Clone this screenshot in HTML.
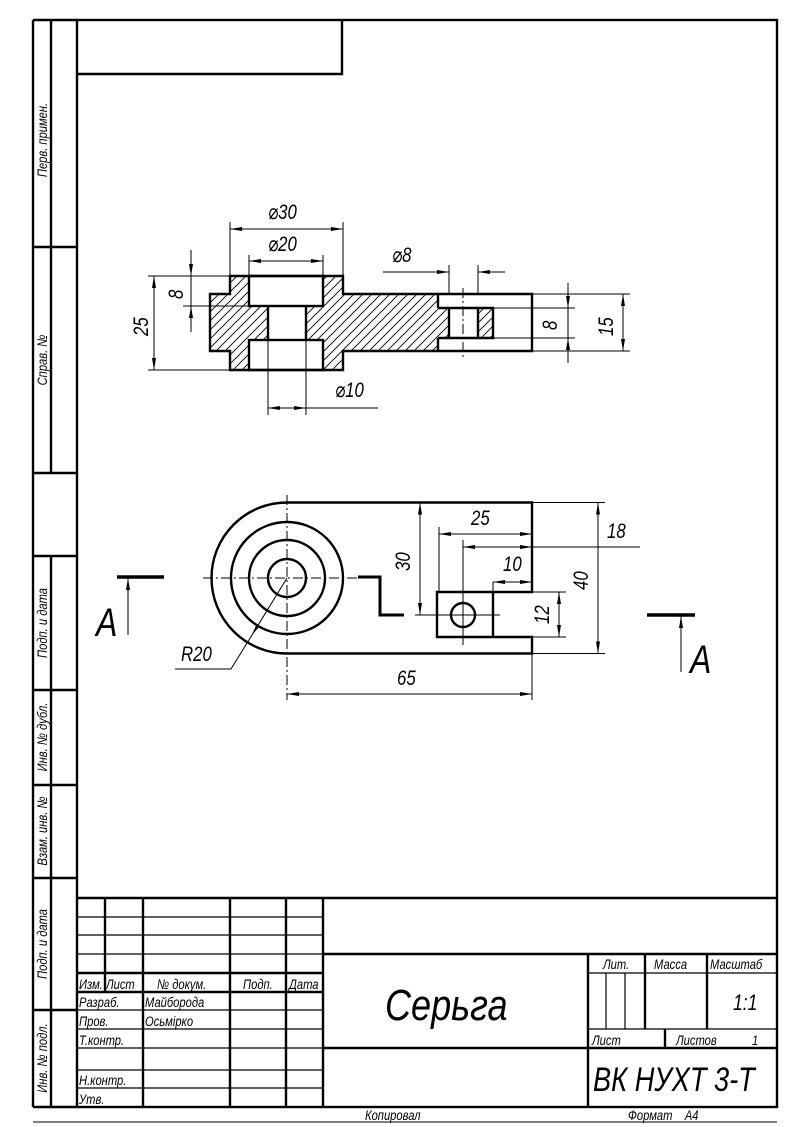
<!DOCTYPE html>
<html><head><meta charset="utf-8"><style>
html,body{margin:0;padding:0;background:#fff}
svg{display:block}
text{font-family:"Liberation Sans","DejaVu Sans",sans-serif;font-style:italic;fill:#000}
</style></head><body>
<svg width="798" height="1127" viewBox="0 0 798 1127" xmlns="http://www.w3.org/2000/svg">
<defs>
<pattern id="h" width="9" height="9" patternUnits="userSpaceOnUse">
<path d="M-1,10 L10,-1 M-2,2 L2,-2 M7,11 L11,7" stroke="#000" stroke-width="0.9"/>
</pattern>
<marker id="a" viewBox="0 0 12 4" refX="12" refY="2" markerWidth="12" markerHeight="4" markerUnits="userSpaceOnUse" orient="auto-start-reverse">
<path d="M0,0 L12,2 L0,4 Z" fill="#000"/>
</marker>
</defs>
<rect width="798" height="1127" fill="#fff"/>

<!-- frame -->
<g stroke="#000" fill="none" stroke-width="2.4">
<rect x="77" y="20" width="700" height="1087"/>
<line x1="33" y1="20" x2="33" y2="1107"/>
<line x1="33" y1="20" x2="77" y2="20"/>
<line x1="33" y1="1107" x2="77" y2="1107"/>
<line x1="51" y1="20" x2="51" y2="473"/>
<line x1="51" y1="556" x2="51" y2="1107"/>
<line x1="33" y1="247" x2="77" y2="247"/>
<line x1="33" y1="473" x2="77" y2="473"/>
<line x1="33" y1="556" x2="77" y2="556"/>
<line x1="33" y1="690" x2="77" y2="690"/>
<line x1="33" y1="785" x2="77" y2="785"/>
<line x1="33" y1="878" x2="77" y2="878"/>
<line x1="33" y1="1010" x2="77" y2="1010"/>
<polyline points="77,74 342,74 342,20"/>
</g>
<line x1="33" y1="1122" x2="777" y2="1122" stroke="#000" stroke-width="1"/>

<!-- left strip labels -->
<g font-size="14">
<text transform="translate(47,140) rotate(-90) scale(0.8,1)" text-anchor="middle">Перв. примен.</text>
<text transform="translate(47,360) rotate(-90) scale(0.8,1)" text-anchor="middle">Справ. №</text>
<text transform="translate(47,623) rotate(-90) scale(0.8,1)" text-anchor="middle">Подп. и дата</text>
<text transform="translate(47,737) rotate(-90) scale(0.8,1)" text-anchor="middle">Инв. № дубл.</text>
<text transform="translate(47,831) rotate(-90) scale(0.8,1)" text-anchor="middle">Взам. инв. №</text>
<text transform="translate(47,944) rotate(-90) scale(0.8,1)" text-anchor="middle">Подп. и дата</text>
<text transform="translate(47,1058) rotate(-90) scale(0.8,1)" text-anchor="middle">Инв. № подл.</text>
</g>

<!-- title block -->
<g stroke="#000" fill="none">
<g stroke-width="2.4">
<line x1="77" y1="898" x2="777" y2="898"/>
<line x1="323" y1="954" x2="777" y2="954"/>
<line x1="323" y1="1048" x2="777" y2="1048"/>
<line x1="77" y1="992" x2="323" y2="992"/>
<line x1="77" y1="973" x2="323" y2="973"/>
<line x1="143" y1="898" x2="143" y2="1107"/>
<line x1="230" y1="898" x2="230" y2="1107"/>
<line x1="286" y1="898" x2="286" y2="1107"/>
<line x1="323" y1="898" x2="323" y2="1107"/>
<line x1="105" y1="898" x2="105" y2="992"/>
<line x1="588" y1="954" x2="588" y2="1107"/>
<line x1="645" y1="954" x2="645" y2="1029"/>
<line x1="707" y1="954" x2="707" y2="1029"/>
<line x1="665" y1="1029" x2="665" y2="1048"/>
</g>
<g stroke-width="1.2">
<line x1="77" y1="917" x2="323" y2="917"/>
<line x1="77" y1="935" x2="323" y2="935"/>
<line x1="77" y1="954" x2="323" y2="954"/>
<line x1="77" y1="1010" x2="323" y2="1010"/>
<line x1="77" y1="1029" x2="323" y2="1029"/>
<line x1="77" y1="1048" x2="323" y2="1048"/>
<line x1="77" y1="1070" x2="323" y2="1070"/>
<line x1="77" y1="1088" x2="323" y2="1088"/>
<line x1="588" y1="973" x2="777" y2="973"/>
<line x1="588" y1="1029" x2="777" y2="1029"/>
<line x1="606" y1="973" x2="606" y2="1029"/>
<line x1="625" y1="973" x2="625" y2="1029"/>
</g>
</g>
<g font-size="14">
<text transform="translate(79,989) scale(0.8,1)">Изм. Лист</text>
<text transform="translate(157,989) scale(0.8,1)">№ докум.</text>
<text transform="translate(243,989) scale(0.8,1)">Подп.</text>
<text transform="translate(289,989) scale(0.8,1)">Дата</text>
<text transform="translate(79,1007) scale(0.8,1)">Разраб.</text>
<text transform="translate(145,1007) scale(0.8,1)">Майборода</text>
<text transform="translate(79,1026) scale(0.8,1)">Пров.</text>
<text transform="translate(145,1026) scale(0.8,1)">Осьмірко</text>
<text transform="translate(79,1045) scale(0.8,1)">Т.контр.</text>
<text transform="translate(79,1085) scale(0.8,1)">Н.контр.</text>
<text transform="translate(79,1104) scale(0.8,1)">Утв.</text>
<text transform="translate(603,969) scale(0.8,1)">Лит.</text>
<text transform="translate(654,969) scale(0.8,1)">Масса</text>
<text transform="translate(710,969) scale(0.8,1)">Масштаб</text>
<text transform="translate(592,1045) scale(0.8,1)">Лист</text>
<text transform="translate(676,1045) scale(0.8,1)">Листов</text>
<text transform="translate(752,1045) scale(0.8,1)">1</text>
<text transform="translate(365,1120) scale(0.8,1)">Копировал</text>
<text transform="translate(628,1120) scale(0.8,1)">Формат&#160;&#160;&#160;&#160;А4</text>
</g>
<text transform="translate(385,1020) scale(0.82,1)" font-size="44">Серьга</text>
<text transform="translate(593,1091) scale(0.8,1)" font-size="34">ВК НУХТ 3-Т</text>
<text transform="translate(733,1010) scale(0.8,1)" font-size="22">1:1</text>

<!-- TOP VIEW (section) -->
<path fill="url(#h)" fill-rule="evenodd" d="M230,276 H249 V306 H323 V276 H343 V294 H438 V308 H449 V338 H438 V351 H343 V370 H323 V340 H249 V370 H230 V351 H210 V294 H230 Z M268,306 H306 V340 H268 Z"/>
<rect x="478" y="308" width="15" height="30" fill="url(#h)"/>
<g stroke="#000" stroke-width="2.4" fill="none">
<path d="M230,276 H343 V294 H532 V351 H343 V370 H230 V351 H210 V294 H230 Z"/>
<rect x="249" y="276" width="74" height="30"/>
<rect x="249" y="340" width="74" height="30"/>
<line x1="268" y1="306" x2="268" y2="340"/>
<line x1="306" y1="306" x2="306" y2="340"/>
<line x1="438" y1="294" x2="438" y2="308"/>
<line x1="438" y1="338" x2="438" y2="351"/>
<path d="M438,308 H493 V338 H438"/>
<line x1="449" y1="308" x2="449" y2="338"/>
<line x1="478" y1="308" x2="478" y2="338"/>
</g>
<g stroke="#000" stroke-width="1" fill="none">
<line x1="463" y1="288" x2="463" y2="360" stroke-dasharray="10,3,2,3"/>
<!-- ext lines -->
<line x1="230" y1="276" x2="230" y2="222"/>
<line x1="343" y1="276" x2="343" y2="222"/>
<line x1="249" y1="276" x2="249" y2="255"/>
<line x1="323" y1="276" x2="323" y2="255"/>
<line x1="449" y1="294" x2="449" y2="265"/>
<line x1="478" y1="294" x2="478" y2="265"/>
<line x1="268" y1="340" x2="268" y2="415"/>
<line x1="306" y1="340" x2="306" y2="415"/>
<line x1="148" y1="276" x2="230" y2="276"/>
<line x1="148" y1="370" x2="230" y2="370"/>
<line x1="183" y1="306" x2="249" y2="306"/>
<line x1="493" y1="308" x2="575" y2="308"/>
<line x1="493" y1="338" x2="575" y2="338"/>
<line x1="532" y1="294" x2="630" y2="294"/>
<line x1="532" y1="351" x2="630" y2="351"/>
<!-- dim lines -->
<line x1="230" y1="229" x2="343" y2="229" marker-start="url(#a)" marker-end="url(#a)"/>
<line x1="249" y1="261" x2="323" y2="261" marker-start="url(#a)" marker-end="url(#a)"/>
<line x1="383" y1="272" x2="449" y2="272" marker-end="url(#a)"/>
<line x1="505" y1="272" x2="478" y2="272" marker-end="url(#a)"/>
<line x1="268" y1="408" x2="287" y2="408" marker-start="url(#a)"/>
<line x1="287" y1="408" x2="306" y2="408" marker-end="url(#a)"/>
<line x1="306" y1="408" x2="378" y2="408"/>
<line x1="154" y1="276" x2="154" y2="370" marker-start="url(#a)" marker-end="url(#a)"/>
<line x1="191" y1="250" x2="191" y2="276" marker-end="url(#a)"/>
<line x1="191" y1="332" x2="191" y2="306" marker-end="url(#a)"/>
<line x1="191" y1="276" x2="191" y2="306"/>
<line x1="568" y1="283" x2="568" y2="308" marker-end="url(#a)"/>
<line x1="568" y1="363" x2="568" y2="338" marker-end="url(#a)"/>
<line x1="568" y1="308" x2="568" y2="338"/>
<line x1="623" y1="294" x2="623" y2="351" marker-start="url(#a)" marker-end="url(#a)"/>
</g>
<g font-size="21">
<text transform="translate(268,219) scale(0.8,1)">⌀30</text>
<text transform="translate(268,251) scale(0.8,1)">⌀20</text>
<text transform="translate(392,262) scale(0.8,1)">⌀8</text>
<text transform="translate(335,397) scale(0.8,1)">⌀10</text>
<text transform="translate(148,336) rotate(-90) scale(0.8,1)">25</text>
<text transform="translate(183,299) rotate(-90) scale(0.8,1)">8</text>
<text transform="translate(557,330) rotate(-90) scale(0.8,1)">8</text>
<text transform="translate(613,336) rotate(-90) scale(0.8,1)">15</text>
</g>

<!-- BOTTOM VIEW -->
<g stroke="#000" stroke-width="2.4" fill="none">
<path d="M287,502.5 A75.5,75.5 0 0 0 287,653.5"/>
<path d="M287,502.5 H532 V592 H437 V637 H532 V653.5 H287"/>
<line x1="493" y1="592" x2="493" y2="637"/>
<circle cx="287" cy="578" r="56"/>
<circle cx="287" cy="578" r="38"/>
<circle cx="287" cy="578" r="19"/>
<circle cx="463" cy="615" r="12"/>
<polyline points="358,577 380,577 380,615 404,615" stroke-width="3"/>
<line x1="117" y1="577" x2="164" y2="577" stroke-width="3.5"/>
<line x1="647" y1="615" x2="695" y2="615" stroke-width="3.5"/>
</g>
<g stroke="#000" stroke-width="1" fill="none">
<line x1="203" y1="578" x2="372" y2="578" stroke-dasharray="10,3,2,3"/>
<line x1="287" y1="495" x2="287" y2="700" stroke-dasharray="10,3,2,3"/>
<line x1="463" y1="540" x2="463" y2="645"/>
<line x1="415" y1="615" x2="500" y2="615"/>
<line x1="128" y1="635" x2="128" y2="578" marker-end="url(#a)"/>
<line x1="681" y1="672" x2="681" y2="616" marker-end="url(#a)"/>
<!-- dims -->
<line x1="420" y1="502.5" x2="420" y2="615" marker-start="url(#a)" marker-end="url(#a)"/>
<line x1="439" y1="527" x2="439" y2="592"/>
<line x1="439" y1="534" x2="532" y2="534" marker-start="url(#a)" marker-end="url(#a)"/>
<line x1="463" y1="547" x2="532" y2="547" marker-start="url(#a)" marker-end="url(#a)"/>
<line x1="532" y1="547" x2="640" y2="547"/>
<line x1="493" y1="582" x2="493" y2="592"/>
<line x1="493" y1="582" x2="532" y2="582" marker-start="url(#a)" marker-end="url(#a)"/>
<line x1="532" y1="502.5" x2="605" y2="502.5"/>
<line x1="532" y1="653.5" x2="605" y2="653.5"/>
<line x1="598" y1="502.5" x2="598" y2="653.5" marker-start="url(#a)" marker-end="url(#a)"/>
<line x1="532" y1="592" x2="566" y2="592"/>
<line x1="532" y1="637" x2="566" y2="637"/>
<line x1="559" y1="592" x2="559" y2="637" marker-start="url(#a)" marker-end="url(#a)"/>
<line x1="532" y1="653" x2="532" y2="700"/>
<line x1="287" y1="694" x2="532" y2="694" marker-start="url(#a)" marker-end="url(#a)"/>
<line x1="287" y1="578" x2="252" y2="635" marker-end="url(#a)"/>
<polyline points="252,635 231,669 175,669"/>
</g>
<g font-size="21">
<text transform="translate(410,571) rotate(-90) scale(0.8,1)">30</text>
<text transform="translate(471,525) scale(0.8,1)">25</text>
<text transform="translate(503,571) scale(0.8,1)">10</text>
<text transform="translate(607,538) scale(0.8,1)">18</text>
<text transform="translate(588,590) rotate(-90) scale(0.8,1)">40</text>
<text transform="translate(549,624) rotate(-90) scale(0.8,1)">12</text>
<text transform="translate(397,685) scale(0.8,1)">65</text>
<text transform="translate(181,661) scale(0.8,1)">R20</text>
</g>
<text transform="translate(96,636) scale(0.8,1)" font-size="40" font-style="normal">A</text>
<text transform="translate(690,673) scale(0.8,1)" font-size="40" font-style="normal">A</text>
</svg>
</body></html>
